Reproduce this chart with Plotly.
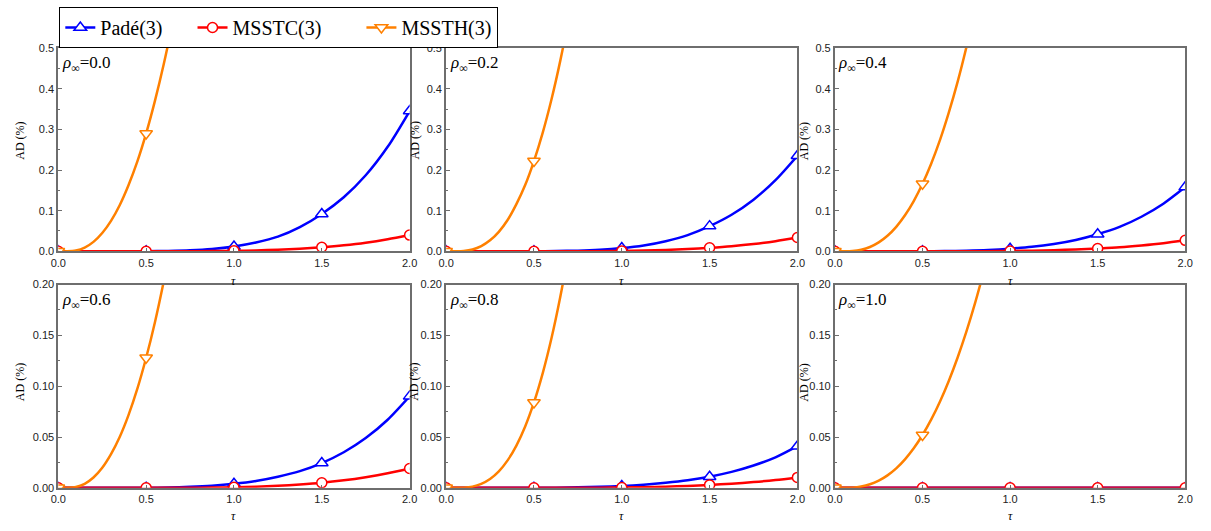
import plotly.graph_objects as go

# Sample grids (dimensionless time step tau)
TAU_COARSE = [0.0, 0.125, 0.25, 0.375, 0.5, 0.625, 0.75, 0.875, 1.0,
              1.125, 1.25, 1.375, 1.5, 1.625, 1.75, 1.875, 2.0]
TAU_FINE = [0.0, 0.05, 0.1, 0.15, 0.2, 0.25, 0.3, 0.35, 0.4, 0.45,
            0.5, 0.55, 0.6, 0.65, 0.7, 0.75, 0.8, 0.85]
MARK_TAU = [0.0, 0.5, 1.0, 1.5, 2.0]

RHO_LABELS = ["0.0", "0.2", "0.4", "0.6", "0.8", "1.0"]

# Amplitude decay AD (%) for Pade(3)
pade_r00 = [0, 0, 0, 0.0001, 0.0003, 0.001, 0.0025, 0.0058, 0.012,
            0.0217, 0.036, 0.0595, 0.092, 0.133, 0.187, 0.257, 0.345]
pade_r02 = [0, 0, 0, 0.0001, 0.0002, 0.0007, 0.0017, 0.0039, 0.008,
            0.0145, 0.025, 0.040, 0.062, 0.090, 0.127, 0.175, 0.235]
pade_r04 = [0, 0, 0, 0.0001, 0.0002, 0.0006, 0.0015, 0.0033, 0.0065,
            0.011, 0.018, 0.028, 0.042, 0.060, 0.085, 0.117, 0.158]
pade_r06 = [0, 0, 0, 0, 0.0001, 0.0004, 0.001, 0.0021, 0.004,
            0.0068, 0.011, 0.0165, 0.0244, 0.035, 0.049, 0.067, 0.090]
pade_r08 = [0, 0, 0, 0, 0.0001, 0.0002, 0.0005, 0.001, 0.0018,
            0.0031, 0.005, 0.0075, 0.011, 0.0157, 0.022, 0.030, 0.041]
pade_r10 = [0] * 17

# Amplitude decay AD (%) for MSSTC(3)
msstc_r00 = [0, 0, 0, 0, 0, 0.0001, 0.0002, 0.0006, 0.0012,
             0.0023, 0.004, 0.0065, 0.010, 0.0147, 0.021, 0.0295, 0.040]
msstc_r02 = [0, 0, 0, 0, 0, 0.0001, 0.0002, 0.0005, 0.001,
             0.002, 0.0035, 0.0057, 0.0088, 0.0127, 0.018, 0.025, 0.034]
msstc_r04 = [0, 0, 0, 0, 0, 0.0001, 0.0002, 0.0004, 0.0008,
             0.0016, 0.0028, 0.0045, 0.007, 0.010, 0.0145, 0.020, 0.027]
msstc_r06 = [0, 0, 0, 0, 0, 0, 0.0001, 0.0003, 0.0006,
             0.0011, 0.002, 0.0033, 0.005, 0.0074, 0.0105, 0.0143, 0.019]
msstc_r08 = [0, 0, 0, 0, 0, 0, 0.0001, 0.0002, 0.0004,
             0.0007, 0.0012, 0.0019, 0.0029, 0.0041, 0.0057, 0.0077, 0.0103]
msstc_r10 = [0] * 17

# Amplitude decay AD (%) for MSSTH(3)
mssth_r00 = [0, 0, 0.0019, 0.0091, 0.0232, 0.045, 0.075, 0.114, 0.163, 0.221,
             0.290, 0.370, 0.460, 0.562, 0.676, 0.800, 0.940, 1.090]
mssth_r02 = [0, 0, 0.0007, 0.0044, 0.0128, 0.027, 0.048, 0.077, 0.116, 0.163,
             0.222, 0.292, 0.374, 0.469, 0.578, 0.700, 0.838, 0.991]
mssth_r04 = [0, 0, 0.0007, 0.0039, 0.0106, 0.0219, 0.0382, 0.0602, 0.0886, 0.1237,
             0.166, 0.216, 0.274, 0.341, 0.416, 0.501, 0.595, 0.700]
mssth_r06 = [0, 0, 0.0008, 0.004, 0.0102, 0.0198, 0.0332, 0.0503, 0.0718, 0.0976,
             0.128, 0.163, 0.203, 0.248, 0.298, 0.353, 0.414, 0.481]
mssth_r08 = [0, 0, 0.0002, 0.0012, 0.0039, 0.0087, 0.0162, 0.027, 0.0416, 0.0604,
             0.084, 0.1129, 0.1474, 0.188, 0.235, 0.2895, 0.351, 0.421]
mssth_r10 = [0, 0, 0.0002, 0.0013, 0.0035, 0.0071, 0.0123, 0.0192, 0.0281, 0.0389,
             0.052, 0.0673, 0.085, 0.1052, 0.128, 0.1534, 0.1817, 0.2129]

PADE = [pade_r00, pade_r02, pade_r04, pade_r06, pade_r08, pade_r10]
MSSTC = [msstc_r00, msstc_r02, msstc_r04, msstc_r06, msstc_r08, msstc_r10]
MSSTH = [mssth_r00, mssth_r02, mssth_r04, mssth_r06, mssth_r08, mssth_r10]

# name, colour, marker symbol, marker size
SERIES = [
    ("Padé(3)", "#0000ff", "triangle-up", 11),
    ("MSSTC(3)", "#ff0000", "circle", 10),
    ("MSSTH(3)", "#ff8000", "triangle-down", 11),
]

W, H = 1211, 531
X_DOM = [(51 / W, 407 / W), (444 / W, 800 / W), (838 / W, 1193 / W)]
Y_DOM = [(1 - 251 / H, 1 - 43 / H), (1 - 493 / H, 1 - 285 / H)]

AXIS_COLOR = "#6e6e6e"
TICK_FONT = dict(family="Arial, Liberation Sans, sans-serif", size=11,
                 color="#222222")
SERIF = "Times New Roman, Liberation Serif, serif"

fig = go.Figure()
layout = {}


def marker_points(tau, values):
    xs, ys = [], []
    for t, v in zip(tau, values):
        if any(abs(t - m) < 1e-9 for m in MARK_TAU):
            xs.append(t)
            ys.append(v)
    return xs, ys


for i in range(6):
    row, col = divmod(i, 3)
    n = i + 1
    xa = "x" if n == 1 else f"x{n}"
    ya = "y" if n == 1 else f"y{n}"
    data = [(TAU_COARSE, PADE[i]), (TAU_COARSE, MSSTC[i]), (TAU_FINE, MSSTH[i])]
    for (name, color, sym, size), (tau, vals) in zip(SERIES, data):
        fig.add_trace(go.Scatter(
            x=tau, y=vals, mode="lines", xaxis=xa, yaxis=ya,
            line=dict(color=color, width=2.5, shape="spline", smoothing=0.8),
            showlegend=False, hoverinfo="skip"))
        mx, my = marker_points(tau, vals)
        fig.add_trace(go.Scatter(
            x=mx, y=my, mode="markers", xaxis=xa, yaxis=ya,
            marker=dict(symbol=sym, size=size, color="white",
                        line=dict(color=color, width=1.5)),
            showlegend=False, hoverinfo="skip"))

    top = row == 0
    layout["xaxis" if n == 1 else f"xaxis{n}"] = dict(
        domain=X_DOM[col], anchor=ya, range=[0, 2], dtick=0.5, tick0=0,
        tickformat=".1f", showline=True, linecolor=AXIS_COLOR, linewidth=2,
        mirror=True, ticks="inside", ticklen=3, tickcolor=AXIS_COLOR,
        showgrid=False, zeroline=False, tickfont=TICK_FONT)
    layout["yaxis" if n == 1 else f"yaxis{n}"] = dict(
        domain=Y_DOM[row], anchor=xa,
        range=[0, 0.5] if top else [0, 0.2],
        dtick=0.1 if top else 0.05, tick0=0,
        tickformat=".1f" if top else ".2f",
        minor=dict(dtick=0.05 if top else 0.025, ticks="inside", ticklen=2,
                   tickcolor=AXIS_COLOR, showgrid=False),
        showline=True, linecolor=AXIS_COLOR, linewidth=2, mirror=True,
        ticks="inside", ticklen=4, tickcolor=AXIS_COLOR,
        showgrid=False, zeroline=False, tickfont=TICK_FONT)

# Legend entries, with trailing spacing between items
GAPS = ["\u00a0" * 5, "\u00a0" * 7, ""]
for (name, color, sym, size), gap in zip(SERIES, GAPS):
    fig.add_trace(go.Scatter(
        x=[None], y=[None], mode="lines+markers", name=name + gap,
        line=dict(color=color, width=2.5),
        marker=dict(symbol=sym, size=size, color="white",
                    line=dict(color=color, width=1.5))))

annotations = []
for i, lab in enumerate(RHO_LABELS):
    row, col = divmod(i, 3)
    n = i + 1
    xa = "x" if n == 1 else f"x{n}"
    ya = "y" if n == 1 else f"y{n}"
    annotations.append(dict(
        text="<i>ρ</i><sub>∞</sub>=" + lab, xref=f"{xa} domain",
        yref=f"{ya} domain", x=0.004, y=0.92, xanchor="left", yanchor="middle",
        showarrow=False, font=dict(family=SERIF, size=17, color="black")))
    x0, x1 = X_DOM[col]
    annotations.append(dict(
        text="<i>τ</i>", xref="paper", yref="paper", x=(x0 + x1) / 2,
        y=1 - (281 if row == 0 else 522) / H, xanchor="center",
        yanchor="middle", showarrow=False,
        font=dict(family=SERIF, size=12, color="black")))
    annotations.append(dict(
        text="AD (%)", xref="paper", yref="paper",
        x=[12, 412, 807][col] / W,
        y=1 - (138 if row == 0 else 385) / H, textangle=-90,
        xanchor="center", yanchor="middle", showarrow=False,
        font=dict(family=SERIF, size=12, color="black")))

fig.update_layout(
    width=W, height=H, margin=dict(l=0, r=0, t=0, b=0),
    paper_bgcolor="white", plot_bgcolor="white",
    showlegend=True,
    legend=dict(orientation="h", x=52 / W, y=1 - 1 / H, xanchor="left",
                yanchor="top", bordercolor="black", borderwidth=1,
                font=dict(family=SERIF, size=20, color="black"),
                bgcolor="white", tracegroupgap=0),
    annotations=annotations,
    **layout)

fig.write_html("out.html")
